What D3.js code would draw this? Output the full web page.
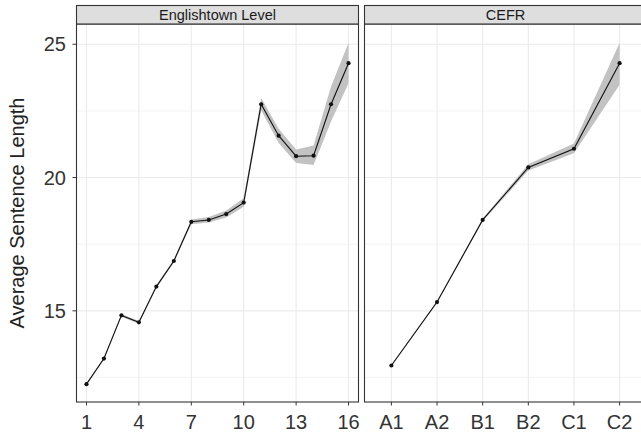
<!DOCTYPE html>
<html><head><meta charset="utf-8">
<script src="https://cdn.jsdelivr.net/npm/d3@7"></script>
<style>body{margin:0;background:#fff}svg{display:block;font-family:"Liberation Sans",Arial,sans-serif}</style>
</head><body><svg id="c" width="641" height="434"></svg>
<script>
const levels = [1,2,3,4,5,6,7,8,9,10,11,12,13,14,15,16];
const levelMean  = [12.25,13.21,14.83,14.57,15.91,16.87,18.34,18.41,18.63,19.06,22.75,21.57,20.80,20.82,22.75,24.29];
const levelLower = [12.22,13.17,14.78,14.52,15.86,16.81,18.25,18.31,18.50,18.90,22.52,21.30,20.55,20.47,22.10,23.54];
const levelUpper = [12.28,13.25,14.88,14.62,15.96,16.93,18.43,18.52,18.76,19.22,22.98,21.83,21.05,21.20,23.42,25.06];
const levelTicks = [1,4,7,10,13,16];

const cefr = ["A1","A2","B1","B2","C1","C2"];
const cefrMean  = [12.95,15.33,18.41,20.38,21.08,24.29];
const cefrLower = [12.92,15.29,18.36,20.26,20.91,23.48];
const cefrUpper = [12.98,15.37,18.46,20.50,21.28,25.06];

const yTicks = [15,20,25];
const yMinor = [12.5,17.5,22.5];
const panelTitles = ["Englishtown Level","CEFR"];
const yTitle = "Average Sentence Length";

const svg = d3.select("#c");
const pTop = 24, pBottom = 402, stripTop = 5;
const y = d3.scaleLinear().domain([11.58,25.76]).range([pBottom, pTop]);

const xL = d3.scalePoint().domain(levels).range([76,359]).padding(0.6);
const xR = d3.scalePoint().domain(cefr).range([364,647]).padding(0.6);

const panels = [
  {x: xL, cats: levels, mean: levelMean, lo: levelLower, hi: levelUpper, ticks: levelTicks, title: panelTitles[0], x0:76, x1:359},
  {x: xR, cats: cefr, mean: cefrMean, lo: cefrLower, hi: cefrUpper, ticks: cefr, title: panelTitles[1], x0:364, x1:647}
];

panels.forEach(p => {
  const g = svg.append("g");
  g.selectAll(".ym").data(yMinor).enter().append("line")
    .attr("x1",p.x0).attr("x2",p.x1).attr("y1",d=>y(d)).attr("y2",d=>y(d))
    .attr("stroke","#f0f0f0").attr("stroke-width",0.8);
  g.selectAll(".yM").data(yTicks).enter().append("line")
    .attr("x1",p.x0).attr("x2",p.x1).attr("y1",d=>y(d)).attr("y2",d=>y(d))
    .attr("stroke","#ebebeb").attr("stroke-width",1.1);
  g.selectAll(".xM").data(p.ticks).enter().append("line")
    .attr("x1",d=>p.x(d)).attr("x2",d=>p.x(d)).attr("y1",pTop).attr("y2",pBottom)
    .attr("stroke","#ebebeb").attr("stroke-width",1.1);

  const rows = p.cats.map((c,i)=>({c, m:p.mean[i], lo:p.lo[i], hi:p.hi[i]}));
  g.append("path").datum(rows)
    .attr("d", d3.area().x(d=>p.x(d.c)).y0(d=>y(d.lo)).y1(d=>y(d.hi)))
    .attr("fill","#c2c2c2");
  g.append("path").datum(rows)
    .attr("d", d3.line().x(d=>p.x(d.c)).y(d=>y(d.m)))
    .attr("fill","none").attr("stroke","#111").attr("stroke-width",1.1);
  g.selectAll(".pt").data(rows).enter().append("circle")
    .attr("cx",d=>p.x(d.c)).attr("cy",d=>y(d.m)).attr("r",2.1).attr("fill","#111");

  g.append("rect").attr("x",p.x0+0.5).attr("y",pTop).attr("width",p.x1-p.x0-1).attr("height",pBottom-pTop)
    .attr("fill","none").attr("stroke","#333").attr("stroke-width",1.1);
  g.append("rect").attr("x",p.x0+0.5).attr("y",stripTop+0.5).attr("width",p.x1-p.x0-1).attr("height",pTop-stripTop-0.5)
    .attr("fill","#dedede").attr("stroke","#333").attr("stroke-width",1.1);
  g.append("text").attr("x",(p.x0+p.x1)/2).attr("y",19.8)
    .attr("text-anchor","middle").attr("font-size",14.5).attr("fill","#1a1a1a").text(p.title);

  g.selectAll(".xt").data(p.ticks).enter().append("line")
    .attr("x1",d=>p.x(d)).attr("x2",d=>p.x(d)).attr("y1",pBottom).attr("y2",pBottom+3.5)
    .attr("stroke","#333").attr("stroke-width",1);
  g.selectAll(".xl").data(p.ticks).enter().append("text")
    .attr("x",d=>p.x(d)).attr("y",428.5).attr("text-anchor","middle")
    .attr("font-size",20).attr("fill","#333").text(d=>d);
});

svg.selectAll(".yt").data(yTicks).enter().append("line")
  .attr("x1",72.5).attr("x2",76).attr("y1",d=>y(d)).attr("y2",d=>y(d))
  .attr("stroke","#333").attr("stroke-width",1);
svg.selectAll(".yl").data(yTicks).enter().append("text")
  .attr("x",66).attr("y",d=>y(d)+7.2).attr("text-anchor","end")
  .attr("font-size",20).attr("fill","#333").text(d=>d);
svg.append("text").attr("transform",`translate(24,${(pTop+pBottom)/2}) rotate(-90)`)
  .attr("text-anchor","middle").attr("font-size",20).attr("fill","#222").text(yTitle);
</script></body></html>
